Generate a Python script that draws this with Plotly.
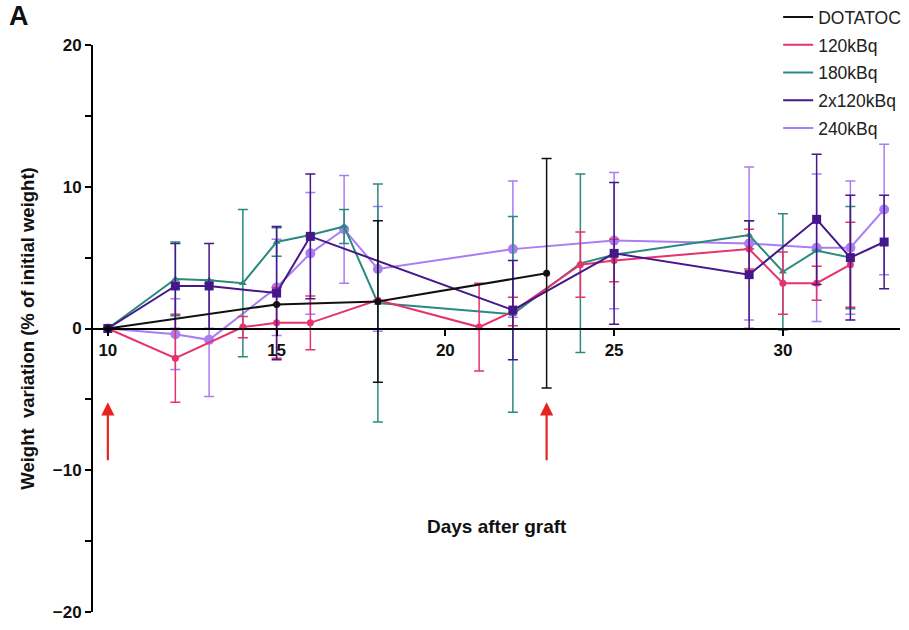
import plotly.graph_objects as go

# Days after graft and mean weight variation (% of initial weight) with SEM, per group
dotatoc_days = [10, 15, 18, 23]
dotatoc_mean = [0.0, 1.7, 1.9, 3.9]
dotatoc_err = [None, None, 5.7, 8.1]

kbq120_days = [10, 12, 14, 15, 16, 18, 21, 22, 24, 25, 29, 30, 31, 32]
kbq120_mean = [0.0, -2.1, 0.1, 0.4, 0.4, 2.0, 0.1, 1.2, 4.5, 4.8, 5.6, 3.2, 3.2, 4.5]
kbq120_err = [None, 3.1, 0.75, 2.5, 1.9, None, 3.1, 1.0, 2.3, 1.5, 1.4, 2.2, 1.2, 3.0]

kbq180_days = [10, 12, 13, 14, 15, 16, 17, 18, 22, 24, 25, 29, 30, 31, 32]
kbq180_mean = [0.0, 3.5, 3.4, 3.2, 6.1, 6.6, 7.2, 1.8, 1.0, 4.6, 5.2, 6.6, 4.0, 5.5, 5.0]
kbq180_err = [None, 2.6, None, 5.2, 1.0, None, 1.2, 8.4, 6.9, 6.3, None, 1.0, 4.1, None, 3.6]

kbq2x120_days = [10, 12, 13, 15, 16, 22, 25, 29, 31, 32, 33]
kbq2x120_mean = [0.0, 3.0, 3.0, 2.5, 6.5, 1.3, 5.3, 3.8, 7.7, 5.0, 6.1]
kbq2x120_err = [None, 3.0, 3.0, 4.7, 4.4, 3.5, 5.0, 3.8, 4.6, 4.4, 3.3]

kbq240_days = [10, 12, 13, 15, 16, 17, 18, 22, 25, 29, 31, 32, 33]
kbq240_mean = [0.0, -0.4, -0.8, 2.9, 5.3, 7.0, 4.2, 5.6, 6.2, 6.0, 5.7, 5.7, 8.4]
kbq240_err = [None, 2.5, 4.0, 3.4, 4.3, 3.8, 4.4, 4.8, 4.8, 5.4, 5.2, 4.7, 4.6]

# Injection days marked by arrows
injection_days = [10, 23]

x_ticks = [10, 15, 20, 25, 30]
y_ticks = [-20, -10, 0, 10, 20]

FONT = "Liberation Sans, Arial, Helvetica, sans-serif"

groups = [
    # name, days, mean, err, color, symbol, size
    ("DOTATOC", dotatoc_days, dotatoc_mean, dotatoc_err, "#111111", "circle", 7),
    ("120kBq", kbq120_days, kbq120_mean, kbq120_err, "#e6336c", "circle", 7),
    ("180kBq", kbq180_days, kbq180_mean, kbq180_err, "#2b8a80", "triangle-up", 7),
    ("2x120kBq", kbq2x120_days, kbq2x120_mean, kbq2x120_err, "#45178a", "square", 9),
    ("240kBq", kbq240_days, kbq240_mean, kbq240_err, "#a87ef2", "circle", 10),
]

fig = go.Figure()

# data traces, drawn lightest first
draw_order = [4, 2, 1, 3, 0]
for i in draw_order:
    name, d, m, e, col, sym, sz = groups[i]
    fig.add_trace(go.Scatter(
        x=d, y=m, mode="lines+markers", name=name, showlegend=False,
        line=dict(color=col, width=2),
        marker=dict(color=col, symbol=sym, size=sz),
        error_y=dict(type="data", array=e, visible=True, color=col,
                     thickness=1.5, width=5),
        cliponaxis=False,
    ))

# legend entries (line samples only)
for i, (name, d, m, e, col, sym, sz) in enumerate(groups):
    fig.add_trace(go.Scatter(
        x=[None], y=[None], mode="lines", name=name,
        line=dict(color=col, width=2), legendgroup=name, showlegend=True,
    ))

for day in injection_days:
    fig.add_annotation(
        x=day, y=-5.2, ax=day, ay=-9.4, xref="x", yref="y", axref="x", ayref="y",
        text="", showarrow=True, arrowhead=2, arrowsize=1.2, arrowwidth=2.2,
        arrowcolor="#e8231f",
    )

fig.add_annotation(
    text="Days after graft", x=0.5, y=0.15, xref="paper", yref="paper",
    yanchor="middle",
    showarrow=False, font=dict(family=FONT, size=19, color="#111", weight="bold"),
)
fig.add_annotation(
    text="A", x=-0.106, y=1.051, xref="paper", yref="paper",
    xanchor="left", yanchor="middle",
    showarrow=False, font=dict(family=FONT, size=27, color="#111", weight="bold"),
)

fig.update_layout(
    width=909, height=630,
    margin=dict(l=93, r=9, t=45, b=18, autoexpand=False),
    plot_bgcolor="white", paper_bgcolor="white",
    font=dict(family=FONT, color="#111"),
    legend=dict(
        x=0.849, y=1.081, xanchor="left", yanchor="top",
        traceorder="grouped", tracegroupgap=2,
        font=dict(family=FONT, size=17.5, color="#222"),
        bgcolor="rgba(0,0,0,0)",
    ),
    xaxis=dict(
        range=[9.56, 33.47], anchor="free", position=0.5,
        showline=True, linewidth=2, linecolor="black",
        ticks="outside", ticklen=6, tickwidth=2, tickcolor="black",
        tickvals=x_ticks, showgrid=False, zeroline=False,
        tickfont=dict(family=FONT, size=17, color="#111", weight="bold"),
    ),
    yaxis=dict(
        range=[-20, 20], tickvals=y_ticks,
        showline=True, linewidth=2, linecolor="black",
        ticks="outside", ticklen=6, tickwidth=2, tickcolor="black",
        minor=dict(dtick=5, tick0=0, ticks="outside", ticklen=6, tickwidth=2,
                   tickcolor="black", showgrid=False),
        showgrid=False, zeroline=False,
        tickfont=dict(family=FONT, size=17, color="#111", weight="bold"),
        title=dict(text="Weight  variation (% of initial weight)", standoff=13,
                   font=dict(family=FONT, size=18.5, color="#111", weight="bold")),
    ),
)

fig.write_html("out.html")
